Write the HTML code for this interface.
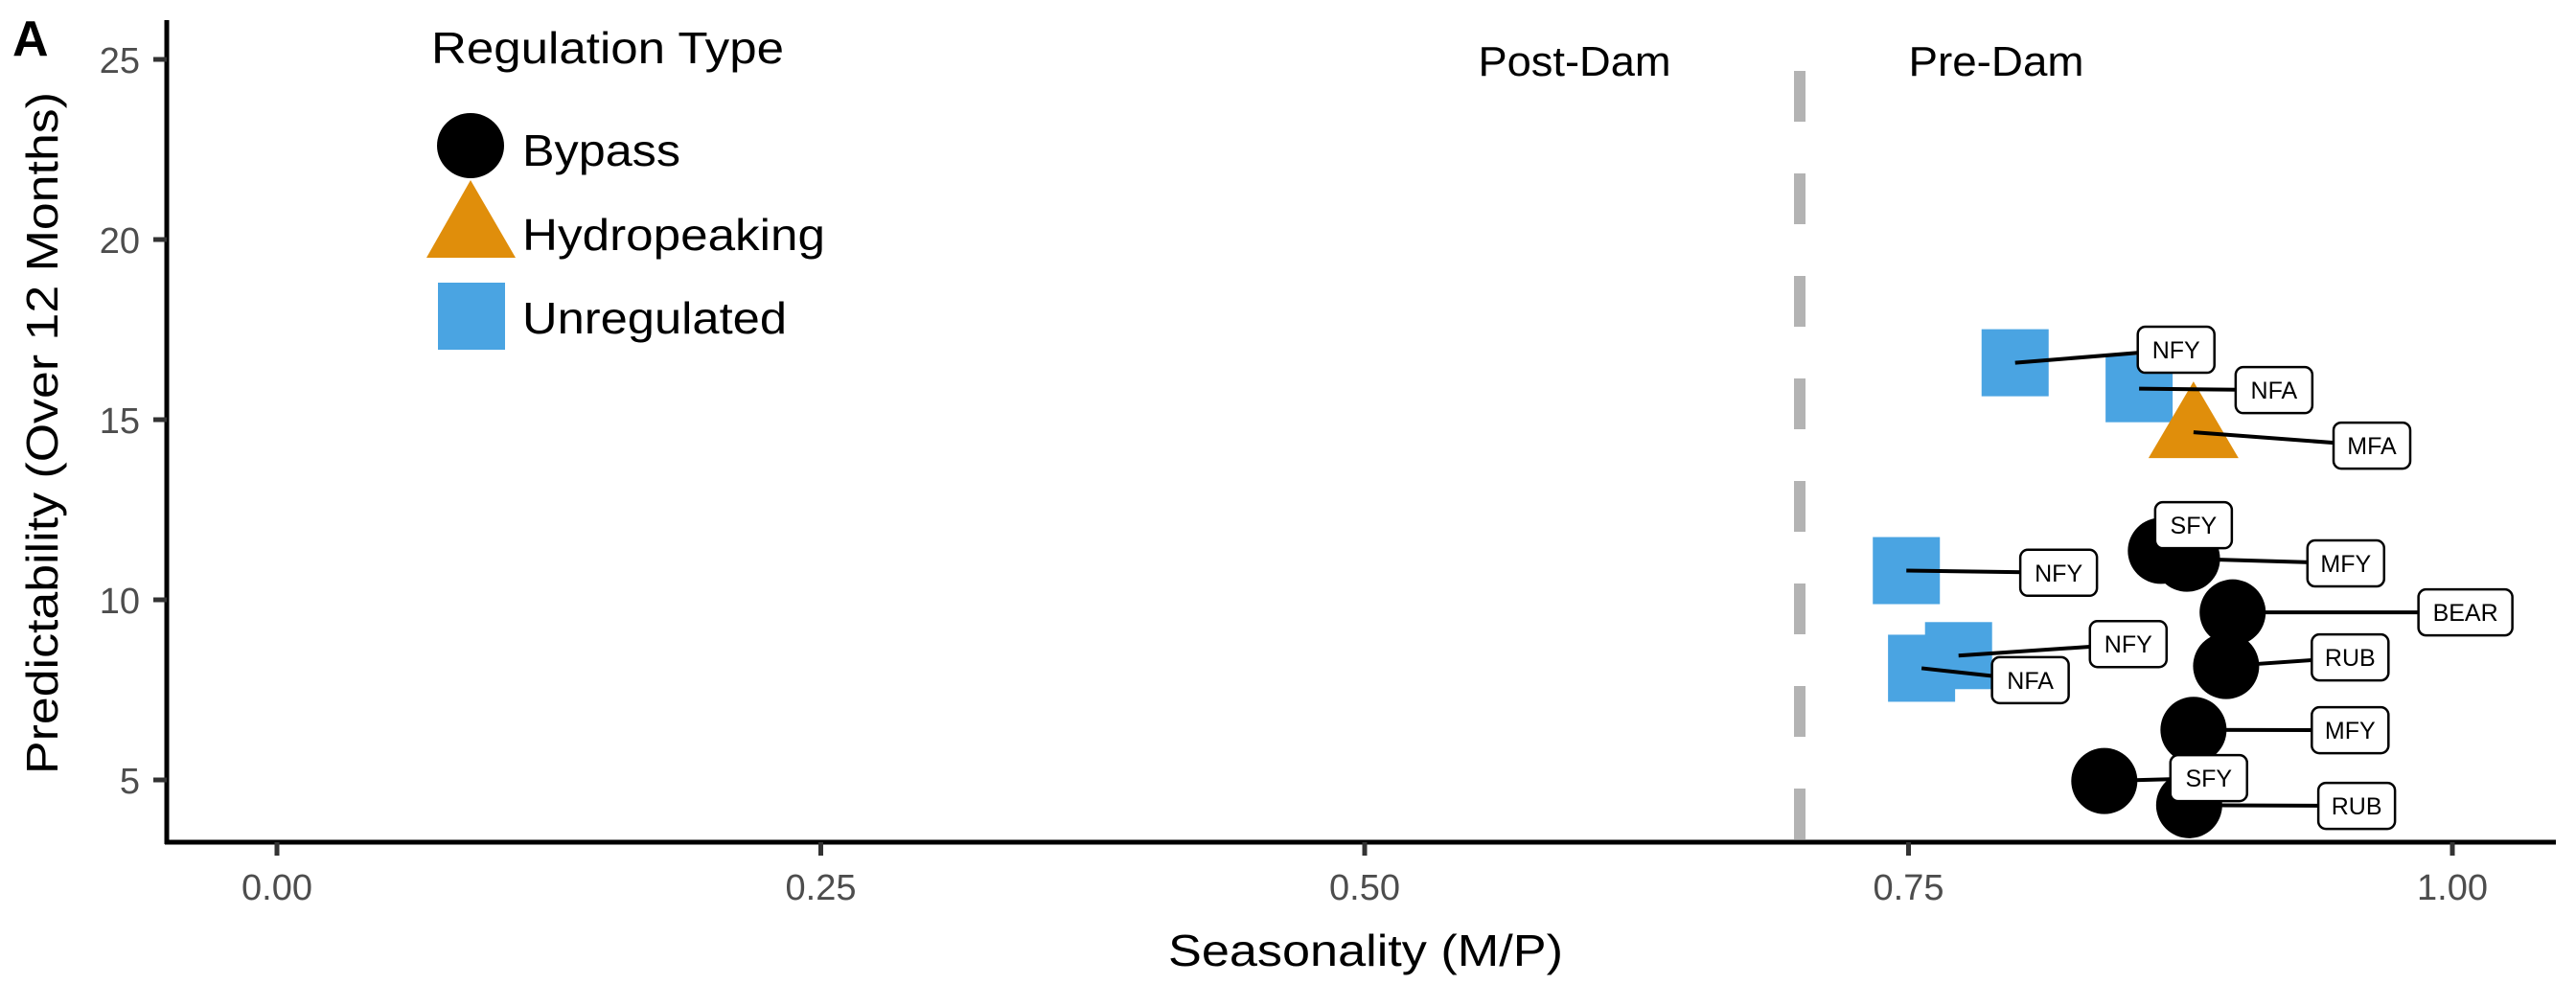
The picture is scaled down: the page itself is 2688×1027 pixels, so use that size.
<!DOCTYPE html>
<html><head><meta charset="utf-8">
<style>
html,body{margin:0;padding:0;background:#fff;}
svg{display:block;font-family:"Liberation Sans",sans-serif;}
</style></head>
<body>
<svg id="chart" width="2688" height="1027" viewBox="0 0 2688 1027">
  <rect width="2688" height="1027" fill="#fff"/>
  <text x="13" y="58" font-size="52" font-weight="bold" fill="#000">A</text>
  <g id="grid"></g>
  <g id="marks"></g>
  <g id="labels"></g>
  <g id="axes"></g>
  <g>
    <text x="450" y="66" font-size="46" textLength="368" lengthAdjust="spacingAndGlyphs">Regulation Type</text>
    <ellipse cx="491" cy="152" rx="35" ry="34" fill="#000"/>
    <text x="545" y="173" font-size="46" textLength="165" lengthAdjust="spacingAndGlyphs">Bypass</text>
    <polygon points="491,188 538,269 445,269" fill="#E08E0B"/>
    <text x="545" y="261" font-size="46" textLength="316" lengthAdjust="spacingAndGlyphs">Hydropeaking</text>
    <rect x="457" y="295" width="70" height="70" fill="#4AA4E2"/>
    <text x="545" y="348" font-size="46" textLength="276" lengthAdjust="spacingAndGlyphs">Unregulated</text>
  </g>
  <text x="1643" y="79" font-size="44" text-anchor="middle" textLength="201" lengthAdjust="spacingAndGlyphs">Post-Dam</text>
  <text x="2083" y="79" font-size="44" text-anchor="middle" textLength="183" lengthAdjust="spacingAndGlyphs">Pre-Dam</text>
  <text x="1425" y="1008" font-size="46" text-anchor="middle" textLength="412" lengthAdjust="spacingAndGlyphs">Seasonality (M/P)</text>
  <text transform="translate(60,452) rotate(-90)" font-size="46" text-anchor="middle" textLength="712" lengthAdjust="spacingAndGlyphs">Predictability (Over 12 Months)</text>
</svg>
<script>
const xTicks = [0, 0.25, 0.5, 0.75, 1.0];
const xTickLabels = ["0.00", "0.25", "0.50", "0.75", "1.00"];
const yTicks = [5, 10, 15, 20, 25];
const yTickLabels = ["5", "10", "15", "20", "25"];
const siteNames = ["NFY","NFA","MFA","SFY","MFY","NFY","BEAR","RUB","NFY","NFA","MFY","SFY","RUB"];
const regType = ["U","U","H","B","B","U","B","B","U","U","B","B","B"];
const seasonality = [0.799,0.856,0.881,0.866,0.878,0.749,0.899,0.896,0.773,0.756,0.881,0.840,0.879];
const predictability = [16.58,15.86,14.65,11.36,11.14,10.81,9.65,8.16,8.45,8.10,6.39,4.97,4.30];
const labelX = [0.873,0.918,0.963,0.881,0.951,0.819,1.006,0.953,0.851,0.806,0.953,0.888,0.956];
const labelY = [16.94,15.82,14.28,12.07,11.01,10.75,9.65,8.40,8.77,7.77,6.38,5.05,4.28];
const damThreshold = 0.7;

const NS = "http://www.w3.org/2000/svg";
const xs = v => 289 + v * 2270;
const ys = v => 62 + (25 - v) * 37.6;
function mk(tag, attrs, parent) {
  const e = document.createElementNS(NS, tag);
  for (const k in attrs) e.setAttribute(k, attrs[k]);
  parent.appendChild(e);
  return e;
}
const grid = document.getElementById("grid");
const marks = document.getElementById("marks");
const labels = document.getElementById("labels");
const axes = document.getElementById("axes");

const dl = mk("line", {x1: xs(damThreshold), x2: xs(damThreshold), y1: 74, y2: 877, stroke: "#b3b3b3", "stroke-width": 12, "stroke-dasharray": "53 54"}, grid);



for (let i = 0; i < siteNames.length; i++) {
  const cx = xs(seasonality[i]), cy = ys(predictability[i]);
  let m;
  if (regType[i] === "B") m = mk("ellipse", {cx: cx, cy: cy, rx: 34.5, ry: 34.5, fill: "#000"}, marks);
  else if (regType[i] === "U") m = mk("rect", {x: cx - 35, y: cy - 35, width: 70, height: 70, fill: "#4AA4E2"}, marks);
  else m = mk("polygon", {points: `${cx},${cy-53} ${cx+47},${cy+27} ${cx-47},${cy+27}`, fill: "#E08E0B"}, marks);
  
  
}
for (let i = 0; i < siteNames.length; i++) {
  const l = mk("line", {x1: xs(seasonality[i]), y1: ys(predictability[i]), x2: xs(labelX[i]), y2: ys(labelY[i]), stroke: "#000", "stroke-width": 4}, labels);
  
  
}
for (let i = 0; i < siteNames.length; i++) {
  const w = siteNames[i].length > 3 ? 98 : 80, h = 48;
  const cx = xs(labelX[i]), cy = ys(labelY[i]);
  const g = mk("g", {}, labels);
  
  
  mk("rect", {x: cx - w/2, y: cy - h/2, width: w, height: h, rx: 8, fill: "#fff", stroke: "#000", "stroke-width": 2.5}, g);
  const t = mk("text", {x: cx, y: cy + 9, "font-size": 25, "text-anchor": "middle", fill: "#000"}, g);
  t.textContent = siteNames[i];
}
const xa = mk("line", {x1: 172, x2: 2667, y1: 879, y2: 879, stroke: "#000", "stroke-width": 5}, axes);


const ya = mk("line", {x1: 174, x2: 174, y1: 21, y2: 881, stroke: "#000", "stroke-width": 5}, axes);


xTicks.forEach((v, i) => {
  const tk = mk("line", {x1: xs(v), x2: xs(v), y1: 879, y2: 893, stroke: "#333", "stroke-width": 5}, axes);
  
  
  const t = mk("text", {x: xs(v), y: 939, "font-size": 38, "text-anchor": "middle", fill: "#4d4d4d"}, axes);
  
  
  t.textContent = xTickLabels[i];
});
yTicks.forEach((v, i) => {
  const tk = mk("line", {x1: 160, x2: 174, y1: ys(v), y2: ys(v), stroke: "#333", "stroke-width": 5}, axes);
  
  
  const t = mk("text", {x: 146, y: ys(v) + 14, "font-size": 38, "text-anchor": "end", fill: "#4d4d4d"}, axes);
  
  
  t.textContent = yTickLabels[i];
});
</script>
</body></html>
